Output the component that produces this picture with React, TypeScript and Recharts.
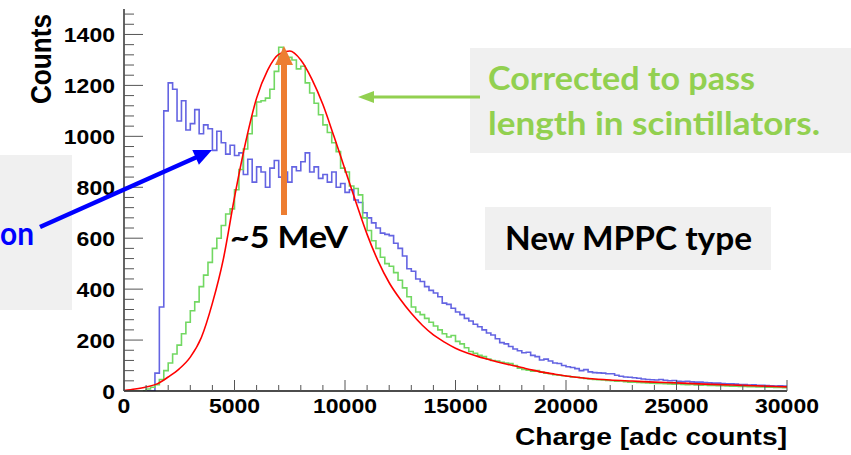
import React from 'react';
import { ComposedChart, Line, XAxis, YAxis } from 'recharts';

// histogram bins are 200 adc wide, starting at 0
const binWidth = 200;

// raw charge (blue)
const rawCounts = [
  0, 0, 0, 0, 0, 0, 0, 70, 330, 1100,
  1210, 1185, 1060, 1140, 1025, 1050, 1105, 1010, 1045, 1030,
  945, 1020, 975, 930, 965, 925, 935, 850, 910, 820,
  880, 860, 800, 875, 905, 840, 860, 820, 880, 865,
  900, 935, 860, 880, 835, 850, 820, 860, 800, 815,
  780, 790, 750, 740, 700, 680, 660, 640, 620, 615,
  610, 580, 560, 530, 480, 470, 440, 430, 410, 395,
  385, 370, 345, 340, 325, 310, 300, 285, 275, 262,
  252, 240, 228, 220, 205, 190, 185, 175, 165, 158,
  150, 152, 140, 135, 122, 125, 118, 110, 108, 100,
  95, 92, 88, 80, 84, 75, 72, 71, 70, 68,
  68, 62, 58, 55, 54, 52, 50, 47, 45, 44,
  43, 45, 42, 40, 41, 38, 37, 38, 36, 35,
  35, 33, 32, 31, 31, 29, 28, 28, 27, 25,
  25, 23, 24, 22, 22, 21, 20, 19, 20, 19,
];

// corrected for path length (green)
const correctedCounts = [
  0, 0, 0, 0, 0, 8, 15, 25, 45, 80,
  110, 145, 180, 225, 270, 315, 350, 410, 455, 505,
  560, 600, 650, 695, 715, 790, 870, 950, 1010, 1080,
  1135, 1140, 1150, 1185, 1255, 1350, 1305, 1310, 1300, 1265,
  1275, 1210, 1170, 1130, 1085, 1045, 1015, 975, 940, 875,
  860, 805, 795, 770, 680, 630, 590, 560, 525, 500,
  490, 465, 435, 405, 370, 330, 310, 300, 285, 270,
  255, 240, 225, 212, 218, 195, 185, 170, 155, 148,
  140, 135, 125, 120, 118, 113, 110, 108, 100, 90,
  85, 82, 78, 80, 74, 70, 68, 64, 62, 60,
  58, 55, 54, 52, 49, 47, 45, 44, 43, 41,
  40, 38, 39, 37, 35, 35, 34, 33, 32, 31,
  30, 30, 29, 28, 27, 28, 26, 25, 26, 24,
  23, 24, 22, 22, 21, 21, 20, 19, 19, 18,
  18, 17, 17, 16, 16, 15, 15, 14, 14, 13,
];

// fit curve (red)
const fitCharge = [
  0, 500, 1000, 1500, 2000, 2500, 3000, 3500, 4000, 4500,
  5000, 5500, 6000, 6500, 7000, 7500, 8000, 8500, 9000, 9500,
  10000, 10500, 11000, 11500, 12000, 12500, 13000, 13500, 14000, 14500,
  15000, 15500, 16000, 16500, 17000, 17500, 18000, 18500, 19000, 19500,
  20000, 21000, 22000, 23000, 24000, 25000, 26000, 27000, 28000, 29000, 30000,
];
const fitCounts = [
  2, 8, 16, 28, 55, 87, 133, 210, 345, 520,
  760, 975, 1150, 1260, 1322, 1335, 1300, 1225, 1125, 1000,
  870, 740, 615, 510, 425, 360, 305, 258, 220, 192,
  168, 150, 136, 124, 112, 102, 92, 82, 73, 66,
  59, 49, 43, 39, 35, 32, 28, 25, 22, 19, 16,
];

const xTicks = [
  0, 1000, 2000, 3000, 4000, 5000, 6000, 7000, 8000, 9000, 10000,
  11000, 12000, 13000, 14000, 15000, 16000, 17000, 18000, 19000, 20000,
  21000, 22000, 23000, 24000, 25000, 26000, 27000, 28000, 29000, 30000,
];
const yTicks = [
  0, 40, 80, 120, 160, 200, 240, 280, 320, 360, 400, 440, 480, 520, 560,
  600, 640, 680, 720, 760, 800, 840, 880, 920, 960, 1000, 1040, 1080, 1120,
  1160, 1200, 1240, 1280, 1320, 1360, 1400, 1440, 1480,
];

const toSteps = (counts: number[]) => {
  const pts = counts.map((v, i) => ({ x: i * binWidth, v }));
  pts.push({ x: counts.length * binWidth, v: counts[counts.length - 1] });
  return pts;
};

const rawData = toSteps(rawCounts);
const correctedData = toSteps(correctedCounts);
const fitData = fitCharge.map((x, i) => ({ x, v: fitCounts[i] }));

const labelFont = '"Liberation Sans", Arial, sans-serif';
const noteFont = 'Lato, "Open Sans", sans-serif';
const tickColor = '#555';
const digitW = 12.8;

const TickLabel = ({ x, y, value, anchor }: any) => {
  const s = String(value);
  return (
    <text x={x} y={y} textAnchor={anchor} fontFamily={labelFont} fontWeight="bold"
      fontSize={21} fill="#000" textLength={s.length * digitW} lengthAdjust="spacingAndGlyphs">
      {s}
    </text>
  );
};

const BottomTick = ({ x, y, payload }: any) => {
  const major = payload.value % 5000 === 0;
  return (
    <g>
      <line x1={x} x2={x} y1={y} y2={y - (major ? 11 : 6)} stroke={tickColor} />
      {major && <TickLabel x={x} y={y + 22} value={payload.value} anchor="middle" />}
    </g>
  );
};

const TopTick = ({ x, y, payload }: any) => {
  const major = payload.value % 5000 === 0;
  return <line x1={x} x2={x} y1={y} y2={y + (major ? 11 : 6)} stroke={tickColor} />;
};

const LeftTick = ({ x, y, payload }: any) => {
  const major = payload.value % 200 === 0;
  return (
    <g>
      <line x1={x} x2={x + (major ? 19 : 10)} y1={y} y2={y} stroke={tickColor} />
      {major && <TickLabel x={x - 9} y={y + 8} value={payload.value} anchor="end" />}
    </g>
  );
};

const RightTick = ({ x, y, payload }: any) => {
  const major = payload.value % 200 === 0;
  return <line x1={x} x2={x - (major ? 19 : 10)} y1={y} y2={y} stroke={tickColor} />;
};

export default function App() {
  const axisLine = { stroke: '#111', strokeWidth: 1.3 };
  return (
    <div style={{ position: 'absolute', left: 0, top: 0, width: 851, height: 455, background: '#fff' }}>
      <ComposedChart width={851} height={455} margin={{ top: 9, right: 64, bottom: 0, left: 0 }}>
        <XAxis xAxisId="b" type="number" dataKey="x" domain={[0, 30000]} allowDataOverflow
          ticks={xTicks} interval={0} height={64} tickSize={0} tickMargin={0}
          tickLine={false} axisLine={axisLine} tick={<BottomTick />} />
        <XAxis xAxisId="t" orientation="top" type="number" dataKey="x" domain={[0, 30000]}
          allowDataOverflow ticks={xTicks} interval={0} height={0} tickSize={0} tickMargin={0}
          tickLine={false} axisLine={axisLine} tick={<TopTick />} />
        <YAxis yAxisId="l" type="number" domain={[0, 1500]} allowDataOverflow ticks={yTicks}
          interval={0} width={124} tickSize={0} tickMargin={0} tickLine={false}
          axisLine={axisLine} tick={<LeftTick />} />
        <YAxis yAxisId="r" orientation="right" type="number" domain={[0, 1500]} allowDataOverflow
          ticks={yTicks} interval={0} width={0} tickSize={0} tickMargin={0} tickLine={false}
          axisLine={axisLine} tick={<RightTick />} />
        <Line xAxisId="b" yAxisId="l" data={rawData} dataKey="v" type="stepAfter"
          stroke="#6464e2" strokeWidth={1.6} dot={false} activeDot={false} isAnimationActive={false} />
        <Line xAxisId="b" yAxisId="l" data={correctedData} dataKey="v" type="stepAfter"
          stroke="#72d862" strokeWidth={1.6} dot={false} activeDot={false} isAnimationActive={false} />
        <Line xAxisId="b" yAxisId="l" data={fitData} dataKey="v" type="monotone"
          stroke="#ff0000" strokeWidth={1.6} dot={false} activeDot={false} isAnimationActive={false} />
      </ComposedChart>

      <svg width={851} height={455} style={{ position: 'absolute', left: 0, top: 0, pointerEvents: 'none' }}>
        {/* axis titles */}
        <g transform="translate(51 59) rotate(-90)">
          <text x={0} y={0} textAnchor="middle" fontFamily={labelFont} fontWeight="bold"
            fontSize={30} textLength={90} lengthAdjust="spacingAndGlyphs">Counts</text>
        </g>
        <text x={515} y={445} fontFamily={labelFont} fontWeight="bold" fontSize={24}
          textLength={272} lengthAdjust="spacingAndGlyphs">Charge [adc counts]</text>

        {/* left note, cut off */}
        <rect x={0} y={155} width={72} height={155} fill="#f0f0f0" />
        <text x={0} y={245} fontFamily={noteFont} fontWeight="bold" fontSize={33} fill="#0000ff"
          textLength={34} lengthAdjust="spacingAndGlyphs">on</text>
        <line x1={40} y1={227} x2={197} y2={157} stroke="#0000ff" strokeWidth={4.5} />
        <polygon points="212,150 198.9,164.7 192.3,150.1" fill="#0000ff" />

        {/* peak marker */}
        <rect x={281} y={63} width={6} height={152} fill="#ed7d31" />
        <polygon points="284,46 275,65 293,65" fill="#ed7d31" />
        <text x={230} y={248} fontFamily={noteFont} fontWeight="bold" fontSize={30} fill="#000"
          textLength={118} lengthAdjust="spacingAndGlyphs">~5 MeV</text>

        {/* corrected note */}
        <rect x={470} y={48} width={381} height={105} fill="#f0f0f0" />
        <text x={488} y={90} fontFamily={noteFont} fontWeight="bold" fontSize={32} fill="#92d050"
          textLength={267} lengthAdjust="spacingAndGlyphs">Corrected to pass</text>
        <text x={488} y={135} fontFamily={noteFont} fontWeight="bold" fontSize={32} fill="#92d050"
          textLength={332} lengthAdjust="spacingAndGlyphs">length in scintillators.</text>
        <line x1={480} y1={97} x2={372} y2={97} stroke="#92d050" strokeWidth={3} />
        <polygon points="358,97 374,91 374,103" fill="#92d050" />

        {/* MPPC note */}
        <rect x={485} y={207} width={286} height={63} fill="#f0f0f0" />
        <text x={505} y={250} fontFamily={noteFont} fontWeight="bold" fontSize={32} fill="#000"
          textLength={247} lengthAdjust="spacingAndGlyphs">New MPPC type</text>
      </svg>
    </div>
  );
}
